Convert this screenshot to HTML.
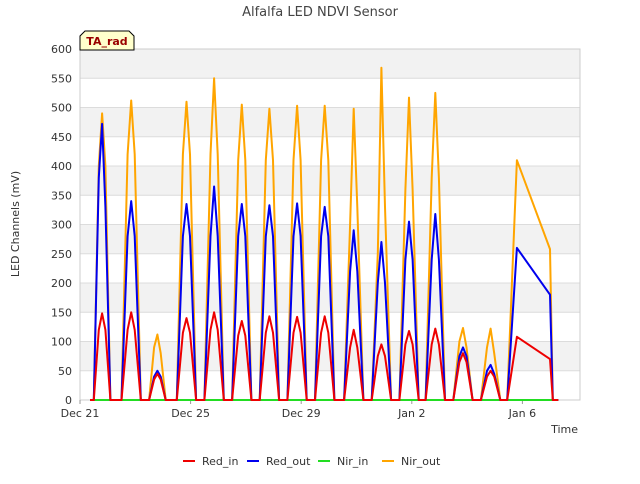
<!DOCTYPE html>
<html><head><meta charset="utf-8"><style>
body{margin:0;background:#fff;font-family:"DejaVu Sans","Liberation Sans",sans-serif}
</style></head><body>
<svg id="c" width="640" height="480" xmlns="http://www.w3.org/2000/svg"></svg>
<script>
const tickVals=[0,50,100,150,200,250,300,350,400,450,500,550,600];
const xTickDays=[0,4,8,12,16];
const xTickLabels=["Dec 21","Dec 25","Dec 29","Jan 2","Jan 6"];
const times=[0.36,0.5,0.68,0.8,0.92,1.1,1.5,1.72,1.85,1.98,2.2,2.5,2.68,2.8,2.92,3.1,3.5,3.72,3.85,3.98,4.2,4.5,4.72,4.85,4.98,5.2,5.5,5.72,5.85,5.98,6.2,6.5,6.72,6.85,6.98,7.2,7.5,7.72,7.85,7.98,8.2,8.5,8.72,8.85,8.98,9.2,9.55,9.77,9.9,10.03,10.25,10.55,10.77,10.9,11.03,11.25,11.55,11.77,11.9,12.03,12.25,12.5,12.72,12.85,12.98,13.2,13.5,13.72,13.85,13.98,14.2,14.5,14.72,14.85,14.98,15.2,15.45,15.8,17.0,17.1,17.3];
const redIn=[0,0,120,148,120,0,0,120,150,120,0,0,35,45,35,0,0,115,140,115,0,0,120,150,120,0,0,110,135,110,0,0,115,143,115,0,0,115,142,115,0,0,115,143,115,0,0,90,120,90,0,0,75,95,75,0,0,95,118,95,0,0,95,122,95,0,0,65,80,65,0,0,40,50,40,0,0,108,70,0,0];
const redOut=[0,0,380,472,330,0,0,280,340,280,0,0,40,50,40,0,0,280,335,280,0,0,280,365,280,0,0,280,335,280,0,0,280,333,280,0,0,280,336,280,0,0,280,330,280,0,0,220,290,220,0,0,200,270,200,0,0,240,305,240,0,0,240,318,240,0,0,75,90,75,0,0,50,60,45,0,0,260,180,0,0];
const nirIn=[0,0,0,0,0,0,0,0,0,0,0,0,0,0,0,0,0,0,0,0,0,0,0,0,0,0,0,0,0,0,0,0,0,0,0,0,0,0,0,0,0,0,0,0,0,0,0,0,0,0,0,0,0,0,0,0,0,0,0,0,0,0,0,0,0,0,0,0,0,0,0,0,0,0,0,0,0,0,0,0,0];
const nirOut=[0,0,400,490,400,0,0,420,512,420,0,0,90,112,80,0,0,420,510,420,0,0,420,550,420,0,0,410,505,410,0,0,410,498,410,0,0,410,503,410,0,0,410,503,410,0,0,300,498,330,0,0,250,568,330,0,0,360,517,360,0,0,380,525,380,0,0,100,123,90,0,0,90,122,80,0,0,410,258,0,0];
const svg=document.getElementById('c');
const NS='http://www.w3.org/2000/svg';
const L=80,R=580,T=49,B=400,yMax=600,pxDay=27.65;
const X=d=>L+d*pxDay, Y=v=>B-v/yMax*(B-T);
function mk(tag,attrs,name,txt){const e=document.createElementNS(NS,tag);for(const k in attrs)e.setAttribute(k,attrs[k]);


if(txt!==undefined)e.textContent=txt;svg.appendChild(e);return e;}
mk('rect',{x:L,y:T,width:R-L,height:B-T,fill:'#fff'},'plot-background');
for(let i=0;i<tickVals.length-1;i++){ if(i%2==1){mk('rect',{x:L,y:Y(tickVals[i+1]),width:R-L,height:Y(tickVals[i])-Y(tickVals[i+1]),fill:'#f2f2f2'},'grid-band');}}
tickVals.forEach(v=>{mk('line',{x1:L,x2:R,y1:Y(v),y2:Y(v),stroke:'#dcdcdc','stroke-width':1},'grid-line');
mk('text',{x:L-8,y:Y(v)+4,'text-anchor':'end','font-size':11,fill:'#333'},'y-tick-label',String(v));});
mk('rect',{x:L,y:T,width:R-L,height:B-T,fill:'none',stroke:'#ccc'},'plot-border');
xTickDays.forEach((d,i)=>{mk('line',{x1:X(d),x2:X(d),y1:B,y2:B+4,stroke:'#999'},'x-tick');
mk('text',{x:X(d),y:B+17,'text-anchor':'middle','font-size':11,fill:'#333'},'x-tick-label',xTickLabels[i]);});
function series(vals,color,name){let p='';times.forEach((t,i)=>{p+=(i?'L':'M')+X(t).toFixed(1)+','+Y(vals[i]).toFixed(1);});
mk('path',{d:p,fill:'none',stroke:color,'stroke-width':2,'stroke-linejoin':'round'},name);}
series(nirIn,'#22dd22','series-nir-in');
series(nirOut,'orange','series-nir-out');
series(redOut,'#0000ee','series-red-out');
series(redIn,'#ee0000','series-red-in');
mk('text',{x:320,y:16,'text-anchor':'middle','font-size':13,fill:'#444'},'chart-title','Alfalfa LED NDVI Sensor');
mk('text',{x:19,y:224,'text-anchor':'middle','font-size':11,fill:'#333',transform:'rotate(-90 19 224)'},'y-axis-title','LED Channels (mV)');
mk('text',{x:578,y:433,'text-anchor':'end','font-size':11,fill:'#333'},'x-axis-title','Time');
mk('path',{d:'M80,50 L80,36 L85,31 L129,31 L134,36 L134,50 Z',fill:'#ffffcc',stroke:'#000'},'ta-rad-box');
mk('text',{x:107,y:45,'text-anchor':'middle','font-size':11,'font-weight':'bold',fill:'#990000'},'ta-rad-label','TA_rad');
const leg=[['Red_in','#ee0000',183],['Red_out','#0000ee',247],['Nir_in','#22dd22',318],['Nir_out','orange',382]];
leg.forEach(l=>{mk('line',{x1:l[2],x2:l[2]+12,y1:461,y2:461,stroke:l[1],'stroke-width':2},'legend-swatch');
mk('text',{x:l[2]+19,y:465,'font-size':11,fill:'#333'},'legend-entry',l[0]);});
</script>
</body></html>
